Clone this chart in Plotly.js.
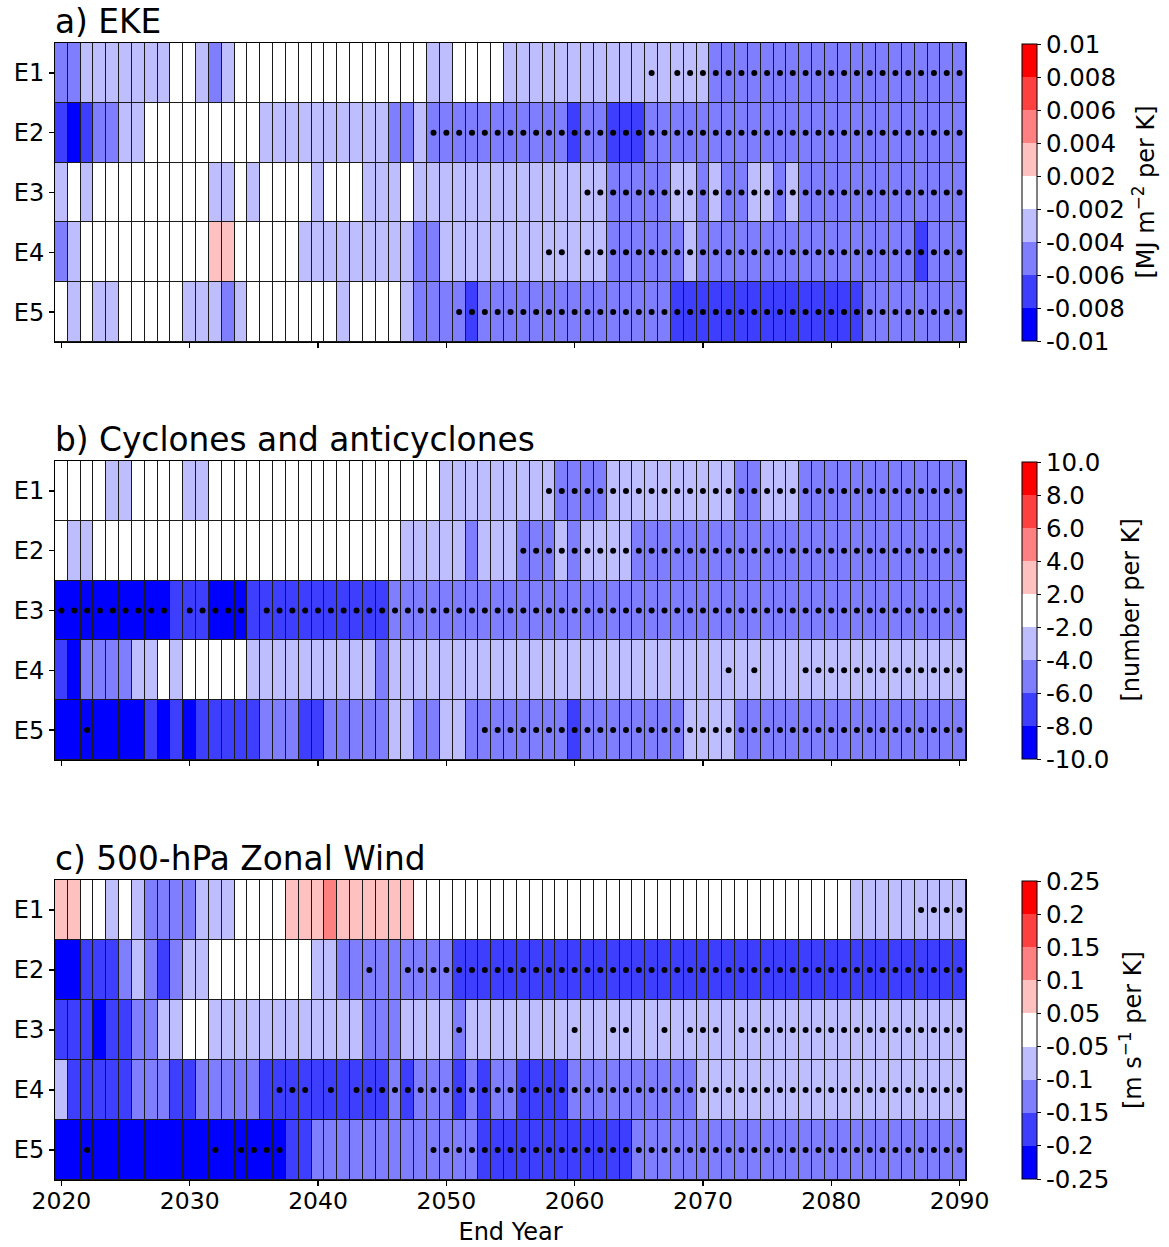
<!DOCTYPE html>
<html><head><meta charset="utf-8">
<script src="https://cdn.plot.ly/plotly-3.0.1.min.js"></script>
<style>html,body{margin:0;padding:0;background:#fff}#chart{width:1169px;height:1247px}</style>
</head><body><div id="chart"></div>
<script>
// ---------------- DATA ----------------
const years = [2020,2021,2022,2023,2024,2025,2026,2027,2028,2029,
  2030,2031,2032,2033,2034,2035,2036,2037,2038,2039,
  2040,2041,2042,2043,2044,2045,2046,2047,2048,2049,
  2050,2051,2052,2053,2054,2055,2056,2057,2058,2059,
  2060,2061,2062,2063,2064,2065,2066,2067,2068,2069,
  2070,2071,2072,2073,2074,2075,2076,2077,2078,2079,
  2080,2081,2082,2083,2084,2085,2086,2087,2088,2089,2090];
const rowLabels = ['E1','E2','E3','E4','E5'];
const xTickYears = [2020,2030,2040,2050,2060,2070,2080,2090];

// a) EKE, values in 10^-3 MJ m^-2 per K (estimated within colour class)
const ekeBounds = [-10,-8,-6,-4,-2,2,4,6,8,10];
const ekeTickText = ['-0.01','-0.008','-0.006','-0.004','-0.002','0.002','0.004','0.006','0.008','0.01'];
const ekeE1 = [-5,-5,-3,-3,-3,-3,-3,-3,-3,0, 0,-3,-5,-3,0,0,0,0,0,0, 0,0,0,0,0,0,0,0,0,-3,
  -3,0,0,0,0,-3,-3,-3,-3,-3, -3,-3,-3,-3,-3,-3,-3,-3,-3,-3, -3,-5,-5,-5,-5,-5,-5,-5,-5,-5,
  -5,-5,-5,-5,-5,-5,-5,-5,-5,-5, -5];
const ekeE2 = [-7,-9,-7,-5,-5,-3,-3,0,0,0, 0,0,0,0,0,0,-3,-3,-3,-3, -3,-3,-3,-3,-3,-3,-5,-5,-3,-5,
  -5,-5,-5,-5,-5,-5,-5,-5,-5,-5, -7,-5,-5,-7,-7,-7,-5,-5,-5,-5, -5,-5,-5,-5,-5,-5,-5,-5,-5,-5,
  -5,-5,-5,-5,-5,-5,-5,-5,-5,-5, -5];
const ekeE3 = [-3,0,-3,0,0,0,0,0,0,0, 0,0,-3,-3,0,-3,0,0,0,0, -3,0,0,0,-3,-3,-3,0,-3,-3,
  -3,-3,-3,-3,-3,-3,-3,-3,-3,-3, -3,-3,-3,-5,-5,-5,-5,-5,-3,-3, -5,-3,-5,-5,-3,-3,-5,-3,-5,-5,
  -5,-5,-5,-5,-5,-5,-5,-5,-5,-5, -5];
const ekeE4 = [-5,-3,0,0,0,0,0,0,0,0, 0,0,3,3,0,0,0,0,0,-3, -3,-3,-3,-3,-3,-3,-3,-3,-5,-5,
  -3,-3,-3,-3,-3,-3,-3,-3,-3,-3, -3,-3,-3,-5,-5,-5,-5,-5,-5,-3, -5,-5,-5,-5,-5,-5,-5,-5,-5,-5,
  -5,-5,-5,-5,-5,-5,-5,-7,-5,-5, -5];
const ekeE5 = [0,-3,0,-3,-3,0,0,0,0,0, -3,-3,-3,-5,-3,0,0,0,0,0, 0,0,-3,0,0,0,0,-3,-5,-5,
  -5,-5,-7,-5,-5,-5,-5,-5,-5,-5, -5,-5,-5,-5,-5,-5,-5,-5,-7,-7, -7,-7,-7,-7,-7,-7,-7,-7,-7,-7,
  -7,-7,-7,-5,-5,-5,-5,-5,-5,-5, -5];
// stippled (significant) end-year ranges
const ekeSigE1 = [[2066,2066],[2068,2090]];
const ekeSigE2 = [[2049,2090]];
const ekeSigE3 = [[2061,2090]];
const ekeSigE4 = [[2058,2059],[2061,2090]];
const ekeSigE5 = [[2051,2090]];

// b) Cyclones and anticyclones, number per K
const cycBounds = [-10,-8,-6,-4,-2,2,4,6,8,10];
const cycTickText = ['-10.0','-8.0','-6.0','-4.0','-2.0','2.0','4.0','6.0','8.0','10.0'];
const cycE1 = [0,0,0,0,-3,-3,0,0,0,0, -3,-3,0,0,0,0,0,0,0,0, 0,0,0,0,0,0,0,0,0,0,
  -3,-3,-3,-3,-3,-3,-3,-3,-3,-5, -5,-5,-5,-3,-3,-3,-3,-3,-3,-3, -3,-3,-3,-5,-5,-3,-3,-3,-5,-5,
  -5,-5,-5,-5,-5,-5,-5,-5,-5,-5, -5];
const cycE2 = [0,-3,-3,0,0,0,0,0,0,0, 0,0,0,0,0,0,0,0,0,0, 0,0,0,0,0,0,0,-3,-3,-3,
  -3,-3,-5,-3,-3,-3,-5,-5,-5,-3, -5,-3,-3,-3,-3,-5,-5,-5,-5,-5, -5,-5,-5,-5,-5,-5,-5,-5,-5,-5,
  -5,-5,-5,-5,-5,-5,-5,-5,-5,-5, -5];
const cycE3 = [-9,-9,-9,-9,-9,-9,-9,-9,-9,-7, -7,-7,-9,-9,-9,-7,-7,-7,-7,-7, -7,-7,-7,-7,-7,-7,-5,-5,-5,-5,
  -5,-5,-5,-5,-5,-5,-5,-5,-5,-5, -5,-5,-5,-5,-5,-5,-5,-5,-5,-5, -5,-5,-5,-5,-5,-5,-5,-5,-5,-5,
  -5,-5,-5,-5,-5,-5,-5,-5,-5,-5, -5];
const cycE4 = [-7,-9,-5,-5,-5,-5,-3,-3,0,-3, 0,0,0,0,0,-3,-3,-3,-3,-3, -3,-3,-3,-3,-3,-5,-3,-3,-3,-3,
  -3,-3,-3,-3,-3,-3,-3,-3,-3,-3, -3,-3,-3,-3,-3,-3,-3,-3,-3,-3, -3,-3,-3,-3,-3,-3,-3,-3,-3,-3,
  -3,-3,-3,-3,-3,-3,-3,-3,-3,-3, -3];
const cycE5 = [-9,-9,-9,-9,-9,-9,-9,-7,-9,-7, -9,-7,-7,-7,-7,-7,-5,-5,-5,-7, -7,-5,-5,-5,-5,-5,-3,-3,-5,-5,
  -3,-3,-5,-5,-5,-5,-5,-5,-5,-5, -7,-5,-5,-5,-5,-5,-5,-5,-5,-3, -3,-3,-3,-5,-5,-5,-5,-5,-5,-5,
  -5,-5,-5,-5,-5,-5,-5,-5,-5,-5, -5];
const cycSigE1 = [[2058,2090]];
const cycSigE2 = [[2056,2090]];
const cycSigE3 = [[2020,2028],[2030,2034],[2036,2090]];
const cycSigE4 = [[2072,2072],[2074,2074],[2078,2090]];
const cycSigE5 = [[2022,2022],[2053,2090]];

// c) 500-hPa zonal wind, values in 10^-2 m s^-1 per K
const windBounds = [-25,-20,-15,-10,-5,5,10,15,20,25];
const windTickText = ['-0.25','-0.2','-0.15','-0.1','-0.05','0.05','0.1','0.15','0.2','0.25'];
const windE1 = [7,7,0,0,-7,0,-7,-12,-12,-12, -12,-7,-7,-7,0,0,0,0,7,7, 7,12,7,7,7,7,7,7,0,0,
  0,0,0,0,0,0,0,0,0,0, 0,0,0,0,0,0,0,0,0,0, 0,0,0,0,0,0,0,0,0,0,
  0,0,-7,-7,-7,-7,-7,-7,-7,-7, -7];
const windE2 = [-22,-22,-17,-17,-17,-12,-7,-12,-17,-12, -7,-7,0,0,0,0,0,0,0,0, -7,-7,-12,-12,-12,-12,-12,-12,-12,-12,
  -12,-17,-17,-17,-17,-17,-17,-17,-17,-17, -17,-17,-17,-17,-17,-17,-17,-17,-17,-17, -17,-17,-17,-17,-17,-17,-17,-17,-17,-17,
  -17,-17,-17,-17,-17,-17,-17,-17,-17,-17, -17];
const windE3 = [-17,-17,-17,-22,-17,-17,-12,-12,-7,-7, 0,0,-7,-7,-7,-7,-7,-7,-7,-7, -7,-7,-7,-7,-12,-12,-12,-7,-7,-7,
  -7,-12,-7,-7,-7,-7,-7,-7,-7,-7, -7,-7,-7,-7,-7,-7,-7,-7,-7,-7, -7,-7,-7,-7,-7,-7,-7,-7,-7,-7,
  -7,-7,-7,-7,-7,-7,-7,-7,-7,-7, -7];
const windE4 = [-7,-17,-17,-17,-17,-17,-12,-12,-12,-17, -17,-12,-12,-12,-12,-12,-17,-17,-17,-17, -17,-17,-17,-17,-17,-17,-12,-17,-12,-12,
  -12,-17,-12,-17,-12,-12,-17,-17,-17,-17, -12,-12,-12,-12,-12,-12,-12,-12,-12,-12, -7,-7,-7,-7,-7,-7,-7,-7,-7,-7,
  -7,-7,-7,-7,-7,-7,-7,-7,-7,-7, -7];
const windE5 = [-22,-22,-22,-22,-22,-22,-22,-22,-22,-22, -22,-22,-22,-22,-22,-22,-22,-22,-17,-17, -12,-12,-12,-12,-12,-12,-12,-12,-12,-12,
  -12,-12,-12,-17,-17,-17,-17,-17,-17,-17, -17,-17,-17,-17,-17,-12,-12,-12,-12,-12, -12,-12,-12,-12,-12,-12,-12,-12,-12,-12,
  -12,-12,-12,-12,-12,-12,-12,-12,-12,-12, -12];
const windSigE1 = [[2087,2090]];
const windSigE2 = [[2044,2044],[2047,2090]];
const windSigE3 = [[2051,2051],[2060,2060],[2063,2064],[2067,2067],[2069,2071],[2073,2090]];
const windSigE4 = [[2037,2039],[2041,2041],[2043,2090]];
const windSigE5 = [[2022,2022],[2032,2032],[2034,2037],[2049,2090]];

// ---------------- STYLE ----------------
const FONT = 'DejaVu Sans, sans-serif';
const binColors = ['#0000ff','#3e3eff','#7e7eff','#bebeff','#ffffff','#ffc0c0','#ff8080','#ff4040','#ff0000'];
const colorscale = [];
binColors.forEach((c,i)=>{ colorscale.push([i/binColors.length,c]); colorscale.push([(i+1)/binColors.length,c]); });

// pixel geometry of the figure
const W = 1169, H = 1247, L = 55, R = 966, T = 43, B = 1180;
const PW = R - L, PH = B - T;
const py = p => (B - p) / PH;     // pixel y -> paper
const px = p => (p - L) / PW;     // pixel x -> paper
const panels = [
  {title:'a) EKE', top:43, bot:342, rows:[ekeE1,ekeE2,ekeE3,ekeE4,ekeE5], sig:[ekeSigE1,ekeSigE2,ekeSigE3,ekeSigE4,ekeSigE5],
   bounds:ekeBounds, tickText:ekeTickText, unit:'[MJ m<sup>−2</sup> per K]', unitX:1143},
  {title:'b) Cyclones and anticyclones', top:461, bot:760, rows:[cycE1,cycE2,cycE3,cycE4,cycE5], sig:[cycSigE1,cycSigE2,cycSigE3,cycSigE4,cycSigE5],
   bounds:cycBounds, tickText:cycTickText, unit:'[number per K]', unitX:1130},
  {title:'c) 500-hPa Zonal Wind', top:880, bot:1180, rows:[windE1,windE2,windE3,windE4,windE5], sig:[windSigE1,windSigE2,windSigE3,windSigE4,windSigE5],
   bounds:windBounds, tickText:windTickText, unit:'[m s<sup>−1</sup> per K]', unitX:1131}
];

function levelIndex(v, bounds){
  for (let i = 0; i < bounds.length - 2; i++) if (v < bounds[i+1]) return i;
  return bounds.length - 2;
}
function expandRanges(ranges){
  const out = [];
  ranges.forEach(([a,b]) => { for (let y = a; y <= b; y++) out.push(y); });
  return out;
}

const traces = [];
const annotations = [];
const layout = {
  width: W, height: H, margin:{l:L, r:W-R, t:T, b:H-B, pad:0},
  paper_bgcolor:'#ffffff', plot_bgcolor:'#1a1a1a',
  font:{family:FONT, color:'#000', size:24},
  showlegend:false
};
const tickIdx = [-0.5,0.5,1.5,2.5,3.5,4.5,5.5,6.5,7.5,8.5];

panels.forEach((p, pi) => {
  const sfx = pi === 0 ? '' : String(pi+1);
  const xa = 'x'+sfx, ya = 'y'+sfx;
  const z = p.rows.map(r => r.map(v => levelIndex(v, p.bounds)));
  traces.push({
    type:'heatmap', x:years, y:[0,1,2,3,4], z:z, xaxis:xa, yaxis:ya,
    colorscale:colorscale, zmin:-0.5, zmax:8.5, xgap:1, ygap:1, hoverinfo:'skip',
    colorbar:{
      x:px(1022), xanchor:'left', xpad:0, xref:'paper',
      y:py((p.top+p.bot)/2), yanchor:'middle', ypad:0, yref:'paper',
      len:(p.bot-p.top-2)/PH, lenmode:'fraction', thickness:15, thicknessmode:'pixels',
      outlinewidth:1, outlinecolor:'#000', borderwidth:0,
      tickmode:'array', tickvals:tickIdx, ticktext:p.tickText,
      ticks:'outside', ticklen:4, tickwidth:1, tickcolor:'#000',
      tickfont:{family:FONT, size:24.5, color:'#000'}
    }
  });
  // stippling
  const sx = [], sy = [];
  p.sig.forEach((rng, ri) => { expandRanges(rng).forEach(yr => { sx.push(yr); sy.push(ri); }); });
  traces.push({type:'scatter', mode:'markers', x:sx, y:sy, xaxis:xa, yaxis:ya,
    marker:{size:6, color:'#000'}, hoverinfo:'skip', cliponaxis:false});

  const isBottom = pi === 2;
  const xax = {
    domain:[0,1], anchor:ya, range:[2019.5,2090.5], tickmode:'array', tickvals:xTickYears,
    showticklabels:isBottom, ticks:'outside', ticklen:5, tickwidth:1.5, tickcolor:'#000',
    showline:true, mirror:true, linecolor:'#000', linewidth:1,
    showgrid:false, zeroline:false, fixedrange:true,
    tickfont:{family:FONT, size:23.5, color:'#000'}
  };
  if (isBottom) {
    xax.ticklabelstandoff = -5;
    xax.title = {text:'End Year', font:{family:FONT, size:24, color:'#000'}, standoff:8};
  }
  layout['xaxis'+sfx] = xax;
  layout['yaxis'+sfx] = {
    domain:[py(p.bot), py(p.top)], anchor:xa, range:[4.5,-0.5], tickmode:'array',
    tickvals:[0,1,2,3,4], ticktext:rowLabels, ticks:'outside', ticklen:5, tickwidth:1.5, tickcolor:'#000',
    showline:true, mirror:true, linecolor:'#000', linewidth:1,
    showgrid:false, zeroline:false, fixedrange:true,
    tickfont:{family:FONT, size:24, color:'#000'}
  };
  annotations.push({xref:'paper', yref:'paper', x:0, y:py(p.top-21), xanchor:'left', yanchor:'middle',
    text:p.title, showarrow:false, font:{family:FONT, size:32.8, color:'#000'}, xshift:-2});
  annotations.push({xref:'paper', yref:'paper', x:px(p.unitX), y:py((p.top+p.bot)/2), xanchor:'center', yanchor:'middle',
    text:p.unit, textangle:-90, showarrow:false, font:{family:FONT, size:24, color:'#000'}});
});
layout.annotations = annotations;

Plotly.newPlot('chart', traces, layout, {displayModeBar:false, staticPlot:true});
</script></body></html>
